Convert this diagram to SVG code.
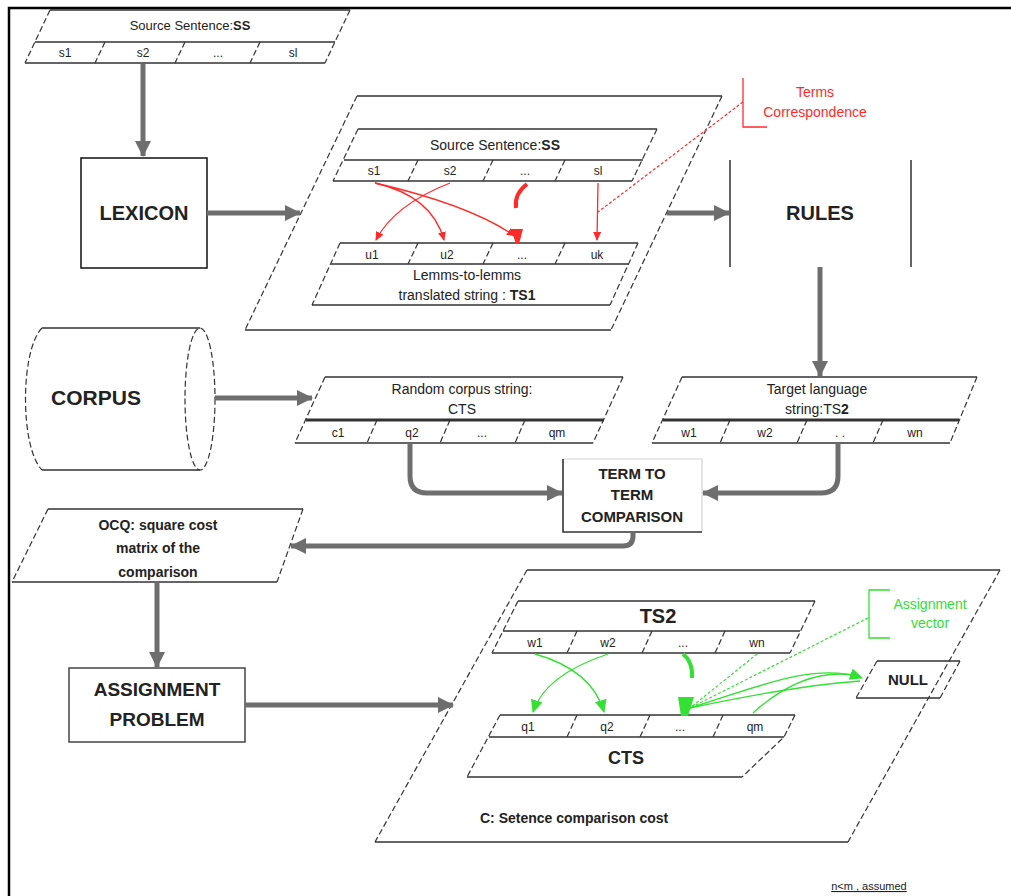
<svg xmlns="http://www.w3.org/2000/svg" width="1011" height="896" viewBox="0 0 1011 896">
<defs>
<style>
text{font-family:"Liberation Sans",Arial,sans-serif;fill:#222;text-anchor:middle}
.s{stroke:#333;stroke-width:1.5;fill:none}
.d{stroke:#333;stroke-width:1.2;fill:none;stroke-dasharray:6,3}
.g{stroke:#6e6e6e;stroke-width:5;fill:none}
.r{stroke:#ff2a2a;stroke-width:1.3;fill:none}
.rd{stroke:#ff2a2a;stroke-width:1.2;fill:none;stroke-dasharray:3,2}
.gr{stroke:#33e033;stroke-width:1.3;fill:none}
.grd{stroke:#33e033;stroke-width:1.2;fill:none;stroke-dasharray:3,2}
.t{font-size:13px}
.c{font-size:12px}
.b{font-weight:bold}
</style>
<marker id="ag" markerUnits="userSpaceOnUse" markerWidth="18" markerHeight="18" refX="15" refY="8" orient="auto">
<path d="M0,0 L16,8 L0,16 Z" fill="#6e6e6e"/>
</marker>
<marker id="ar" markerUnits="userSpaceOnUse" markerWidth="10" markerHeight="10" refX="8" refY="4" orient="auto">
<path d="M0,0 L9,4 L0,8 Z" fill="#ff2a2a"/>
</marker>
<marker id="agr" markerUnits="userSpaceOnUse" markerWidth="14" markerHeight="14" refX="12" refY="6" orient="auto">
<path d="M0,0 L13,6 L0,12 Z" fill="#33e033"/>
</marker>
</defs>
<rect width="1011" height="896" fill="#fff"/>
<g id="frame">
<path d="M9,896 V8 H1011" stroke="#000" stroke-width="2.5" fill="none"/>
</g>

<g id="src-top">
<path class="s" d="M50,10 H350 M35,42 H335 M25,63 H325"/>
<path class="d" d="M50,10 L25,63 M350,10 L325,63 M105,42 L95,63 M185,42 L175,63 M260,42 L250,63"/>
<text x="190" y="30" class="t">Source Sentence:<tspan class="b">SS</tspan></text>
<text x="65" y="57" class="c">s1</text>
<text x="143" y="57" class="c">s2</text>
<text x="218" y="57" class="c">...</text>
<text x="293" y="57" class="c">sl</text>
</g>

<g id="lexicon">
<rect x="81" y="158" width="126" height="110" fill="#fff" stroke="#111" stroke-width="1.5"/>
<text x="144" y="220" font-size="20" class="b">LEXICON</text>
</g>

<g id="translation">
<path class="s" d="M357,96 H722 M245,330 H611"/>
<path class="d" d="M357,96 L245,330 M722,96 L611,330"/>
<g id="ss-inner">
<path class="s" d="M358,129 H657 M344,160 H643 M333,181 H632"/>
<path class="d" d="M358,129 L333,181 M657,129 L632,181 M418,160 L408,181 M493,160 L483,181 M565,160 L555,181"/>
<text x="495" y="150" font-size="14">Source Sentence:<tspan class="b">SS</tspan></text>
<text x="374" y="175" class="c">s1</text>
<text x="450" y="175" class="c">s2</text>
<text x="525" y="175" class="c">...</text>
<text x="598" y="175" class="c">sl</text>
</g>
<g id="ts1">
<path class="s" d="M340,243 H638 M331,264 H629 M312,305 H610"/>
<path class="d" d="M340,243 L312,305 M638,243 L610,305 M418,243 L408,264 M493,243 L483,264 M565,243 L555,264"/>
<text x="372" y="259" class="c">u1</text>
<text x="447" y="259" class="c">u2</text>
<text x="522" y="259" class="c">...</text>
<text x="597" y="259" class="c">uk</text>
<text x="467" y="280" font-size="14">Lemms-to-lemms</text>
<text x="467" y="300" font-size="14">translated string : <tspan class="b">TS1</tspan></text>
</g>
</g>

<g id="terms-correspondence">
<path class="r" d="M743,78 V127 H767"/>
<text x="815" y="97" font-size="14" style="fill:#ff2a2a">Terms</text>
<text x="815" y="117" font-size="14" style="fill:#ff2a2a">Correspondence</text>
</g>

<g id="rules">
<path d="M730,160 V267 M911,160 V267" stroke="#333" stroke-width="1.5"/>
<text x="820" y="220" font-size="20" class="b">RULES</text>
</g>

<g id="corpus">
<path class="s" d="M42,328 H200 M42,470 H200"/>
<path class="d" d="M42,328 C20,350 20,448 42,470"/>
<ellipse cx="200" cy="399" rx="15" ry="71" class="d"/>
<text x="96" y="405" font-size="21" class="b">CORPUS</text>
</g>

<g id="cts">
<path class="s" d="M325,377 H623 M295,443 H593"/>
<path d="M306,420 H604" stroke="#333" stroke-width="3"/>
<path class="d" d="M325,377 L295,443 M623,377 L593,443 M377,420 L367,443 M450,420 L440,443 M525,420 L515,443"/>
<text x="462" y="394" font-size="14">Random corpus string:</text>
<text x="462" y="414" font-size="14">CTS</text>
<text x="338" y="437" class="c">c1</text>
<text x="412" y="437" class="c">q2</text>
<text x="482" y="437" class="c">...</text>
<text x="557" y="437" class="c">qm</text>
</g>

<g id="ts2-target">
<path class="s" d="M682,377 H977 M652,443 H950"/>
<path d="M663,420 H959" stroke="#333" stroke-width="3"/>
<path class="d" d="M682,377 L652,443 M977,377 L950,443 M730,420 L720,443 M807,420 L797,443 M883,420 L873,443"/>
<text x="817" y="394" font-size="14">Target language</text>
<text x="817" y="414" font-size="14">string:TS<tspan class="b">2</tspan></text>
<text x="689" y="437" class="c">w1</text>
<text x="765" y="437" class="c">w2</text>
<text x="840" y="437" class="c">. .</text>
<text x="915" y="437" class="c">wn</text>
</g>

<g id="term-comparison">
<path d="M563,459 H702 V532" stroke="#d4d4d4" stroke-width="1.2" fill="none"/>
<path d="M563,459 V532 H702" stroke="#333" stroke-width="1.6" fill="none"/>
<text x="632" y="479" font-size="15" class="b">TERM TO</text>
<text x="632" y="500" font-size="15" class="b">TERM</text>
<text x="632" y="522" font-size="15" class="b">COMPARISON</text>
</g>

<g id="ocq">
<path class="s" d="M48,509 H303 M12,582 H277"/>
<path class="d" d="M48,509 L12,582 M303,509 L277,582"/>
<text x="158" y="530" font-size="14" class="b">OCQ: square cost</text>
<text x="158" y="553" font-size="14" class="b">matrix of the</text>
<text x="158" y="577" font-size="14" class="b">comparison</text>
</g>

<g id="assignment">
<rect x="69" y="668" width="176" height="74" fill="#fff" stroke="#444" stroke-width="1.5"/>
<text x="157" y="696" font-size="19" class="b">ASSIGNMENT</text>
<text x="157" y="726" font-size="19" class="b">PROBLEM</text>
</g>

<g id="comparison-cost">
<path class="s" d="M527,570 H1000 M375,842 H848"/>
<path class="d" d="M527,570 L375,842 M1000,570 L848,842"/>
<g id="ts2-inner">
<path class="s" d="M518,601 H815 M503,631 H800 M492,653 H790"/>
<path class="d" d="M518,601 L492,653 M815,601 L790,653 M577,631 L567,653 M652,631 L642,653 M725,631 L715,653"/>
<text x="658" y="623" font-size="20" class="b">TS2</text>
<text x="535" y="647" class="c">w1</text>
<text x="608" y="647" class="c">w2</text>
<text x="683" y="647" class="c">...</text>
<text x="757" y="647" class="c">wn</text>
</g>
<g id="cts-inner">
<path class="s" d="M500,715 H795 M489,737 H784 M467,777 H742"/>
<path class="d" d="M500,715 L467,777 M795,715 L784,737 L742,777 M577,715 L567,737 M650,715 L640,737 M723,715 L713,737"/>
<text x="528" y="731" class="c">q1</text>
<text x="607" y="731" class="c">q2</text>
<text x="680" y="731" class="c">...</text>
<text x="755" y="731" class="c">qm</text>
<text x="626" y="764" font-size="18" class="b">CTS</text>
</g>
<text x="480" y="823" font-size="14" class="b" style="text-anchor:start">C: Setence comparison cost</text>
</g>

<g id="null">
<path class="s" d="M877,661 H960 M856,698 H940"/>
<path class="d" d="M877,661 L856,698 M960,661 L940,698"/>
<text x="908" y="685" font-size="15" class="b">NULL</text>
</g>

<g id="assignment-vector">
<path class="gr" d="M890,590 H869 V638 H890"/>
<text x="930" y="609" font-size="14" style="fill:#33e033">Assignment</text>
<text x="930" y="628" font-size="14" style="fill:#33e033">vector</text>
</g>

<g id="note">
<text x="869" y="890" font-size="11" style="text-decoration:underline">n&lt;m , assumed</text>
</g>

<g id="connectors">
<path class="g" d="M143,64 V156" marker-end="url(#ag)"/>
<path class="g" d="M207,213 H300" marker-end="url(#ag)"/>
<path class="g" d="M667,213 H729" marker-end="url(#ag)"/>
<path class="g" d="M820,267 V376" marker-end="url(#ag)"/>
<path class="g" d="M215,398 H312" marker-end="url(#ag)"/>
<path class="g" d="M410,443 V476 Q410,493 427,493 H562" marker-end="url(#ag)"/>
<path class="g" d="M838,443 V476 Q838,493 821,493 H703" marker-end="url(#ag)"/>
<path class="g" d="M633,532 V536 Q633,546 623,546 H291" marker-end="url(#ag)"/>
<path class="g" d="M157,582 V667" marker-end="url(#ag)"/>
<path class="g" d="M245,705 H453" marker-end="url(#ag)"/>

<path class="r" d="M375,183 Q432,196 444,240" marker-end="url(#ar)"/>
<path class="r" d="M375,183 Q470,205 515,236" marker-end="url(#ar)"/>
<path class="r" d="M450,183 Q394,205 376,240" marker-end="url(#ar)"/>
<path d="M527,184 Q514,194 516,208" stroke="#ff2a2a" stroke-width="4" fill="none"/>
<path d="M511,229 L523,229 L519,244 L516,244 Z" fill="#ff2a2a"/>
<path class="r" d="M598,183 L597,240" marker-end="url(#ar)"/>
<path class="rd" d="M743,102 L598,212"/>

<path class="gr" d="M535,654 Q592,670 604,712" marker-end="url(#agr)"/>
<path class="gr" d="M608,654 Q545,675 533,712" marker-end="url(#agr)"/>
<path d="M683,654 Q693,662 692,678" stroke="#33e033" stroke-width="4" fill="none"/>
<path d="M678,697 L694,697 L688,716 L681,716 Z" fill="#33e033"/>
<path class="grd" d="M757,654 L690,708"/>
<path class="grd" d="M868,618 L690,708"/>
<path class="gr" d="M690,708 C760,686 815,662 862,678" marker-end="url(#agr)"/>
<path class="gr" d="M690,708 C765,692 820,684 860,681"/>
<path class="gr" d="M753,713 C785,684 820,668 860,676"/>
</g>
</svg>
